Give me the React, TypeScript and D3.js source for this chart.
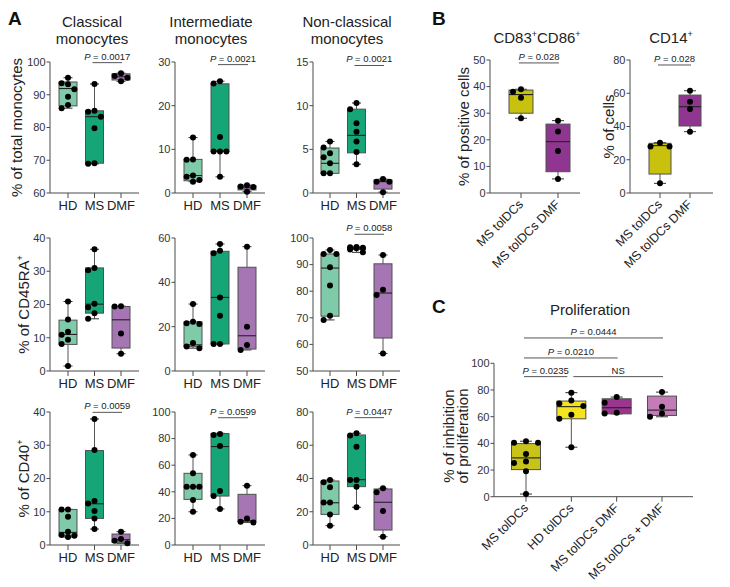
import React from 'react';
import * as d3 from 'd3';

const FONT = "'Liberation Sans', Arial, Helvetica, sans-serif";

// ---------------- Data ----------------
const groupsA = ['HD', 'MS', 'DMF'];
const groupsB = ['MS tolDCs', 'MS tolDCs DMF'];
const groupsC = ['MS tolDCs', 'HD tolDCs', 'MS tolDCs DMF', 'MS tolDCs + DMF'];

const colorsA = ['#7fcaa8', '#15a577', '#a676b4'];
const colorsB = ['#c8c20f', '#8f3790'];
const colorsC = ['#c8c31a', '#f3e41e', '#9a3590', '#c47cb8'];

// box stats: [min, q1, median, q3, max]
const classicalPts = [
  [95.2, 93.5, 93.2, 91.7, 89.4, 86.9, 85.9],
  [93.3, 85.1, 84.8, 83.3, 79.8, 69.1, 68.9],
  [96.6, 95.7, 95.2, 94.1],
];
const classicalBox = [
  [85.9, 86.6, 91.9, 93.9, 95.2],
  [68.9, 69.1, 83.3, 85.1, 93.3],
  [94.1, 94.5, 95.5, 96.4, 96.6],
];
const intermediatePts = [
  [12.7, 7.7, 7.6, 4.0, 3.7, 3.0, 2.6],
  [25.6, 25.1, 12.8, 9.5, 9.5, 9.5, 3.7],
  [1.8, 1.5, 1.4, 0.3],
];
const intermediateBox = [
  [2.6, 2.8, 4.0, 7.7, 12.7],
  [3.7, 9.5, 9.6, 25.0, 25.6],
  [0.3, 0.7, 1.2, 1.7, 1.8],
];
const nonclassicalPts = [
  [5.9, 5.2, 4.55, 4.1, 3.4, 2.25, 2.25],
  [10.3, 9.6, 8.0, 7.0, 5.9, 4.7, 3.3],
  [1.6, 1.3, 1.3, 0.1],
];
const nonclassicalBox = [
  [2.25, 2.25, 3.4, 5.15, 5.9],
  [3.3, 4.6, 6.6, 9.6, 10.3],
  [0.1, 0.45, 1.3, 1.5, 1.6],
];
const cd45ClassicalPts = [
  [20.9, 15.5, 11.8, 10.9, 9.4, 8.1, 1.5],
  [36.6, 31.0, 30.3, 20.2, 19.2, 17.4, 15.7],
  [19.5, 19.4, 11.3, 5.2],
];
const cd45ClassicalBox = [
  [1.5, 8.0, 11.0, 15.3, 20.9],
  [15.7, 17.4, 20.1, 31.0, 36.6],
  [5.2, 6.9, 15.4, 19.4, 19.5],
];
const cd45IntermediatePts = [
  [30.2, 22.2, 21.5, 21.2, 12.6, 11.0, 10.3],
  [57.3, 54.3, 53.1, 33.2, 24.9, 12.2, 12.2],
  [56.1, 20.0, 11.7, 9.5],
];
const cd45IntermediateBox = [
  [10.3, 11.0, 11.8, 22.2, 30.2],
  [12.2, 12.2, 33.2, 54.0, 57.3],
  [9.5, 9.9, 15.9, 46.8, 56.1],
];
const cd45NonclassicalPts = [
  [95.5, 94.0, 94.0, 89.0, 82.1, 70.8, 69.2],
  [96.6, 96.5, 96.3, 96.1, 95.7, 94.6],
  [93.6, 80.5, 78.6, 56.6],
];
const cd45NonclassicalBox = [
  [69.2, 70.6, 88.7, 94.0, 95.5],
  [94.6, 95.7, 96.2, 96.4, 96.6],
  [56.6, 62.4, 79.3, 90.3, 93.6],
];
const cd40ClassicalPts = [
  [10.7, 10.7, 8.5, 4.0, 3.0, 2.8, 2.4],
  [37.9, 28.6, 13.2, 12.5, 10.2, 8.0, 4.8],
  [4.0, 1.8, 1.3, 0.5],
];
const cd40ClassicalBox = [
  [2.4, 2.7, 3.8, 10.7, 10.7],
  [4.8, 8.0, 12.4, 28.4, 37.9],
  [0.5, 0.8, 1.6, 3.3, 4.0],
];
const cd40IntermediatePts = [
  [67.7, 53.9, 43.8, 43.8, 43.8, 33.8, 25.0],
  [83.5, 82.7, 74.4, 40.6, 36.8, 27.1],
  [44.6, 20.0, 17.5, 17.0],
];
const cd40IntermediateBox = [
  [25.0, 34.3, 43.8, 53.9, 67.7],
  [27.1, 36.8, 74.0, 83.8, 84.0],
  [17.0, 17.5, 18.3, 38.1, 44.6],
];
const cd40NonclassicalPts = [
  [39.1, 37.7, 34.7, 25.5, 25.5, 18.4, 11.6],
  [67.2, 65.8, 59.1, 39.1, 39.1, 35.1, 22.7],
  [34.1, 31.7, 20.5, 5.0],
];
const cd40NonclassicalBox = [
  [11.6, 18.4, 25.4, 38.5, 39.1],
  [22.7, 35.1, 39.3, 66.2, 67.2],
  [5.0, 9.0, 25.7, 33.7, 34.1],
];
const cd83Pts = [
  [39.0, 38.1, 35.8, 28.1],
  [27.2, 23.1, 15.8, 5.3],
];
const cd83Box = [
  [28.1, 30.0, 37.0, 38.7, 39.0],
  [5.3, 8.0, 19.3, 25.9, 27.2],
];
const cd14Pts = [
  [30.3, 27.9, 27.9, 5.8],
  [61.5, 54.9, 50.5, 36.9],
];
const cd14Box = [
  [5.8, 11.4, 28.5, 29.9, 30.3],
  [36.9, 40.3, 51.9, 58.9, 61.5],
];
const prolifPts = [
  [41.6, 40.4, 40.4, 32.1, 26.3, 25.3, 19.0, 2.0],
  [78.0, 72.2, 69.9, 67.9, 61.4, 58.4, 37.1],
  [74.7, 70.4, 62.9, 62.4],
  [78.4, 67.4, 62.4, 59.9],
];
const prolifBox = [
  [2.0, 20.3, 29.1, 39.8, 41.6],
  [37.1, 58.4, 67.5, 71.7, 78.0],
  [62.1, 62.1, 66.7, 73.4, 74.7],
  [59.9, 60.9, 64.9, 75.4, 78.4],
];

const ticksClassical = [60, 70, 80, 90, 100];
const ticksIntermediate = [0, 10, 20, 30];
const ticksNonclassical = [0, 5, 10, 15];
const ticksCd45Classical = [0, 10, 20, 30, 40];
const ticksCd45Intermediate = [0, 20, 40, 60];
const ticksCd45Nonclassical = [50, 60, 70, 80, 90, 100];
const ticksCd40Classical = [0, 10, 20, 30, 40];
const ticksCd40Intermediate = [0, 20, 40, 60, 80, 100];
const ticksCd40Nonclassical = [0, 20, 40, 60, 80];
const ticksCd83 = [0, 10, 20, 30, 40, 50];
const ticksCd14 = [0, 20, 40, 60, 80];
const ticksProlif = [0, 20, 40, 60, 80, 100];

// significance bars
type Sig = { a: string; b: string; y: number; p?: string; ns?: boolean; da?: number; db?: number };
const sigClassical: Sig[] = [{ a: 'MS', b: 'DMF', y: 99.8, p: '0.0017' }];
const sigIntermediate: Sig[] = [{ a: 'MS', b: 'DMF', y: 29.4, p: '0.0021' }];
const sigNonclassical: Sig[] = [{ a: 'MS', b: 'DMF', y: 14.6, p: '0.0021' }];
const sigCd45Nonclassical: Sig[] = [{ a: 'MS', b: 'DMF', y: 101.4, p: '0.0058' }];
const sigCd40Classical: Sig[] = [{ a: 'MS', b: 'DMF', y: 39.9, p: '0.0059' }];
const sigCd40Intermediate: Sig[] = [{ a: 'MS', b: 'DMF', y: 95.7, p: '0.0599' }];
const sigCd40Nonclassical: Sig[] = [{ a: 'MS', b: 'DMF', y: 76.6, p: '0.0447' }];
const sigCd83: Sig[] = [{ a: 'MS tolDCs', b: 'MS tolDCs DMF', y: 48.9, p: '0.028' }];
const sigCd14: Sig[] = [{ a: 'MS tolDCs', b: 'MS tolDCs DMF', y: 77, p: '0.028' }];
const sigProlif: Sig[] = [
  { a: 'MS tolDCs', b: 'MS tolDCs + DMF', y: 119, p: '0.0444' },
  { a: 'MS tolDCs', b: 'MS tolDCs DMF', y: 104, p: '0.0210' },
  { a: 'MS tolDCs', b: 'HD tolDCs', y: 90, p: '0.0235', db: -4 },
  { a: 'HD tolDCs', b: 'MS tolDCs + DMF', y: 90, ns: true, da: 2 },
];

// ---------------- Rendering ----------------
interface PanelSpec {
  ax0: number; ax1: number; cx0: number; cx1: number; yTop: number; yBot: number;
  ticks: number[]; groups: string[]; colors: string[];
  pts: number[][]; box: number[][]; boxW: number; capW: number; step: number;
  sig: Sig[]; rot?: boolean;
}

const R = 3;

function dodge(values: number[], yv: (v: number) => number, step: number) {
  const placed: { x: number; y: number }[] = [];
  const order = values.map((_, i) => i).sort((a, b) => values[b] - values[a]);
  const out: { dx: number; y: number }[] = new Array(values.length);
  const cands = [0, -1, 1];
  for (const i of order) {
    const py = yv(values[i]);
    let best = 0;
    let bestCost = Infinity;
    for (const k of cands) {
      const px = k * step;
      const cost = placed.reduce((acc, p) => {
        const d = Math.hypot(p.x - px, p.y - py);
        return acc + (d < 2 * R + 0.2 ? 2 * R + 0.2 - d : 0);
      }, 0);
      if (cost < bestCost - 1e-6) { bestCost = cost; best = px; }
    }
    placed.push({ x: best, y: py });
    out[i] = { dx: best, y: py };
  }
  return out;
}

function Panel({ s }: { s: PanelSpec }) {
  const lo = s.ticks[0];
  const hi = s.ticks[s.ticks.length - 1];
  const y = d3.scaleLinear().domain([lo, hi]).range([s.yBot, s.yTop]);
  const x = d3.scalePoint<string>().domain(s.groups).range([s.cx0, s.cx1]);
  const axisColor = '#4a4a4a';
  return (
    <g>
      <line x1={s.ax0} x2={s.ax0} y1={s.yTop} y2={s.yBot} stroke={axisColor} strokeWidth={1} />
      <line x1={s.ax0} x2={s.ax1} y1={s.yBot} y2={s.yBot} stroke={axisColor} strokeWidth={1} />
      {s.ticks.map(t => (
        <g key={t}>
          <line x1={s.ax0 - 3.5} x2={s.ax0} y1={y(t)} y2={y(t)} stroke={axisColor} />
          <text x={s.ax0 - 4.5} y={y(t)} dy="0.35em" textAnchor="end" fontSize={11} fill="#333">{t}</text>
        </g>
      ))}
      {s.groups.map(g => (
        <line key={g} x1={x(g)!} x2={x(g)!} y1={s.yBot} y2={s.yBot + 5} stroke={axisColor} />
      ))}
      {s.groups.map(g =>
        s.rot ? (
          <text key={'l' + g} transform={`translate(${x(g)! + 3},${s.yBot + 12}) rotate(-45)`} textAnchor="end" fontSize={12.5} fill="#222">{g}</text>
        ) : (
          <text key={'l' + g} x={x(g)!} y={s.yBot + 17} textAnchor="middle" fontSize={13} fill="#222">{g}</text>
        )
      )}
      {s.groups.map((g, i) => {
        const [mn, q1, md, q3, mx] = s.box[i];
        const cx = x(g)!;
        const hw = s.boxW / 2;
        return (
          <g key={'b' + g}>
            <line x1={cx} x2={cx} y1={y(mx)} y2={y(q3)} stroke="#555" />
            <line x1={cx} x2={cx} y1={y(q1)} y2={y(mn)} stroke="#555" />
            <line x1={cx - s.capW / 2} x2={cx + s.capW / 2} y1={y(mx)} y2={y(mx)} stroke="#333" />
            <line x1={cx - s.capW / 2} x2={cx + s.capW / 2} y1={y(mn)} y2={y(mn)} stroke="#333" />
            <rect x={cx - hw} y={y(q3)} width={s.boxW} height={Math.max(0.5, y(q1) - y(q3))} fill={s.colors[i]} stroke="#505050" strokeWidth={1} />
            <line x1={cx - hw} x2={cx + hw} y1={y(md)} y2={y(md)} stroke="#222" strokeWidth={1.1} />
          </g>
        );
      })}
      {s.groups.map((g, i) => {
        const cx = x(g)!;
        const placed = dodge(s.pts[i], v => y(v), s.step);
        return placed.map((p, j) => <circle key={g + j} cx={cx + p.dx} cy={p.y} r={R} fill="#000" />);
      })}
      {s.sig.map((sg, k) => {
        const x1 = x(sg.a)! + (sg.da ?? -2);
        const x2 = x(sg.b)! + (sg.db ?? 1);
        const yy = y(sg.y);
        const mid = (x1 + x2) / 2;
        return (
          <g key={'s' + k}>
            <line x1={x1} x2={x2} y1={yy} y2={yy} stroke="#555" strokeWidth={1} />
            <text x={mid} y={yy - 3} textAnchor="middle" fontSize={9.5} fill="#222">
              {sg.ns ? 'NS' : (<><tspan fontStyle="italic">P</tspan>{' = ' + sg.p}</>)}
            </text>
          </g>
        );
      })}
    </g>
  );
}

const colsA = [
  { ax0: 50, ax1: 139, cx0: 68, cx1: 121 },
  { ax0: 175, ax1: 265, cx0: 193, cx1: 247 },
  { ax0: 313, ax1: 400, cx0: 330, cx1: 383 },
];
const rowsA = [
  { yTop: 62, yBot: 193 },
  { yTop: 238, yBot: 371 },
  { yTop: 412, yBot: 545 },
];

const panelDataA = [
  [
    [classicalPts, classicalBox, ticksClassical, sigClassical],
    [intermediatePts, intermediateBox, ticksIntermediate, sigIntermediate],
    [nonclassicalPts, nonclassicalBox, ticksNonclassical, sigNonclassical],
  ],
  [
    [cd45ClassicalPts, cd45ClassicalBox, ticksCd45Classical, []],
    [cd45IntermediatePts, cd45IntermediateBox, ticksCd45Intermediate, []],
    [cd45NonclassicalPts, cd45NonclassicalBox, ticksCd45Nonclassical, sigCd45Nonclassical],
  ],
  [
    [cd40ClassicalPts, cd40ClassicalBox, ticksCd40Classical, sigCd40Classical],
    [cd40IntermediatePts, cd40IntermediateBox, ticksCd40Intermediate, sigCd40Intermediate],
    [cd40NonclassicalPts, cd40NonclassicalBox, ticksCd40Nonclassical, sigCd40Nonclassical],
  ],
] as any[];

function Sup({ children }: { children: string }) {
  return <tspan fontSize={9} dy={-6}>{children}</tspan>;
}

export default function App() {
  const specsA: PanelSpec[] = [];
  panelDataA.forEach((row: any[], r: number) => {
    row.forEach((d: any[], c: number) => {
      specsA.push({
        ...colsA[c], ...rowsA[r],
        pts: d[0], box: d[1], ticks: d[2], sig: d[3],
        groups: groupsA, colors: colorsA, boxW: 18, capW: 9, step: 6.4,
      });
    });
  });
  const specB1: PanelSpec = {
    ax0: 490, ax1: 580, cx0: 521, cx1: 558, yTop: 60, yBot: 193,
    ticks: ticksCd83, groups: groupsB, colors: colorsB, pts: cd83Pts, box: cd83Box,
    boxW: 24, capW: 12, step: 8, sig: sigCd83, rot: true,
  };
  const specB2: PanelSpec = {
    ax0: 630, ax1: 713, cx0: 660, cx1: 690, yTop: 60, yBot: 193,
    ticks: ticksCd14, groups: groupsB, colors: colorsB, pts: cd14Pts, box: cd14Box,
    boxW: 22, capW: 12, step: 9.5, sig: sigCd14, rot: true,
  };
  const specC: PanelSpec = {
    ax0: 494, ax1: 693, cx0: 526, cx1: 662, yTop: 363.3, yBot: 496.7,
    ticks: ticksProlif, groups: groupsC, colors: colorsC, pts: prolifPts, box: prolifBox,
    boxW: 29, capW: 12, step: 12, sig: sigProlif, rot: true,
  };

  const titleFs = 15;
  return (
    <svg width={730} height={587} style={{ position: 'absolute', left: 0, top: 0, background: '#fff' }} fontFamily={FONT}>
      <rect width={730} height={587} fill="#fff" />
      <text x={8} y={25} fontSize={19} fontWeight={900} fill="#111">A</text>
      <text x={432} y={25} fontSize={19} fontWeight={900} fill="#111">B</text>
      <text x={432} y={313} fontSize={19} fontWeight={900} fill="#111">C</text>

      <text x={92} y={26.5} textAnchor="middle" fontSize={titleFs} fill="#222">Classical</text>
      <text x={92} y={43.5} textAnchor="middle" fontSize={titleFs} fill="#222">monocytes</text>
      <text x={211} y={26.5} textAnchor="middle" fontSize={titleFs} fill="#222">Intermediate</text>
      <text x={211} y={43.5} textAnchor="middle" fontSize={titleFs} fill="#222">monocytes</text>
      <text x={347} y={26.5} textAnchor="middle" fontSize={titleFs} fill="#222">Non-classical</text>
      <text x={347} y={43.5} textAnchor="middle" fontSize={titleFs} fill="#222">monocytes</text>

      <text transform="translate(22,127.5) rotate(-90)" textAnchor="middle" fontSize={titleFs} fill="#222">% of total monocytes</text>
      <text transform="translate(29,304.5) rotate(-90)" textAnchor="middle" fontSize={titleFs} fill="#222">% of CD45RA<Sup>+</Sup></text>
      <text transform="translate(29,478.5) rotate(-90)" textAnchor="middle" fontSize={titleFs} fill="#222">% of CD40<Sup>+</Sup></text>

      {specsA.map((s, i) => <Panel key={i} s={s} />)}

      <text x={537} y={43} textAnchor="middle" fontSize={titleFs} fill="#222">CD83<Sup>+</Sup><tspan dy={6}>CD86</tspan><Sup>+</Sup></text>
      <text x={671} y={43} textAnchor="middle" fontSize={titleFs} fill="#222">CD14<Sup>+</Sup></text>
      <text transform="translate(469,126.5) rotate(-90)" textAnchor="middle" fontSize={titleFs} fill="#222">% of positive cells</text>
      <text transform="translate(614,126.5) rotate(-90)" textAnchor="middle" fontSize={titleFs} fill="#222">% of cells</text>
      <Panel s={specB1} />
      <Panel s={specB2} />

      <text x={590} y={315} textAnchor="middle" fontSize={titleFs} fill="#222">Proliferation</text>
      <text transform="translate(454,436) rotate(-90)" textAnchor="middle" fontSize={titleFs} fill="#222">% of inhibition</text>
      <text transform="translate(468,436) rotate(-90)" textAnchor="middle" fontSize={titleFs} fill="#222">of proliferation</text>
      <Panel s={specC} />
    </svg>
  );
}
